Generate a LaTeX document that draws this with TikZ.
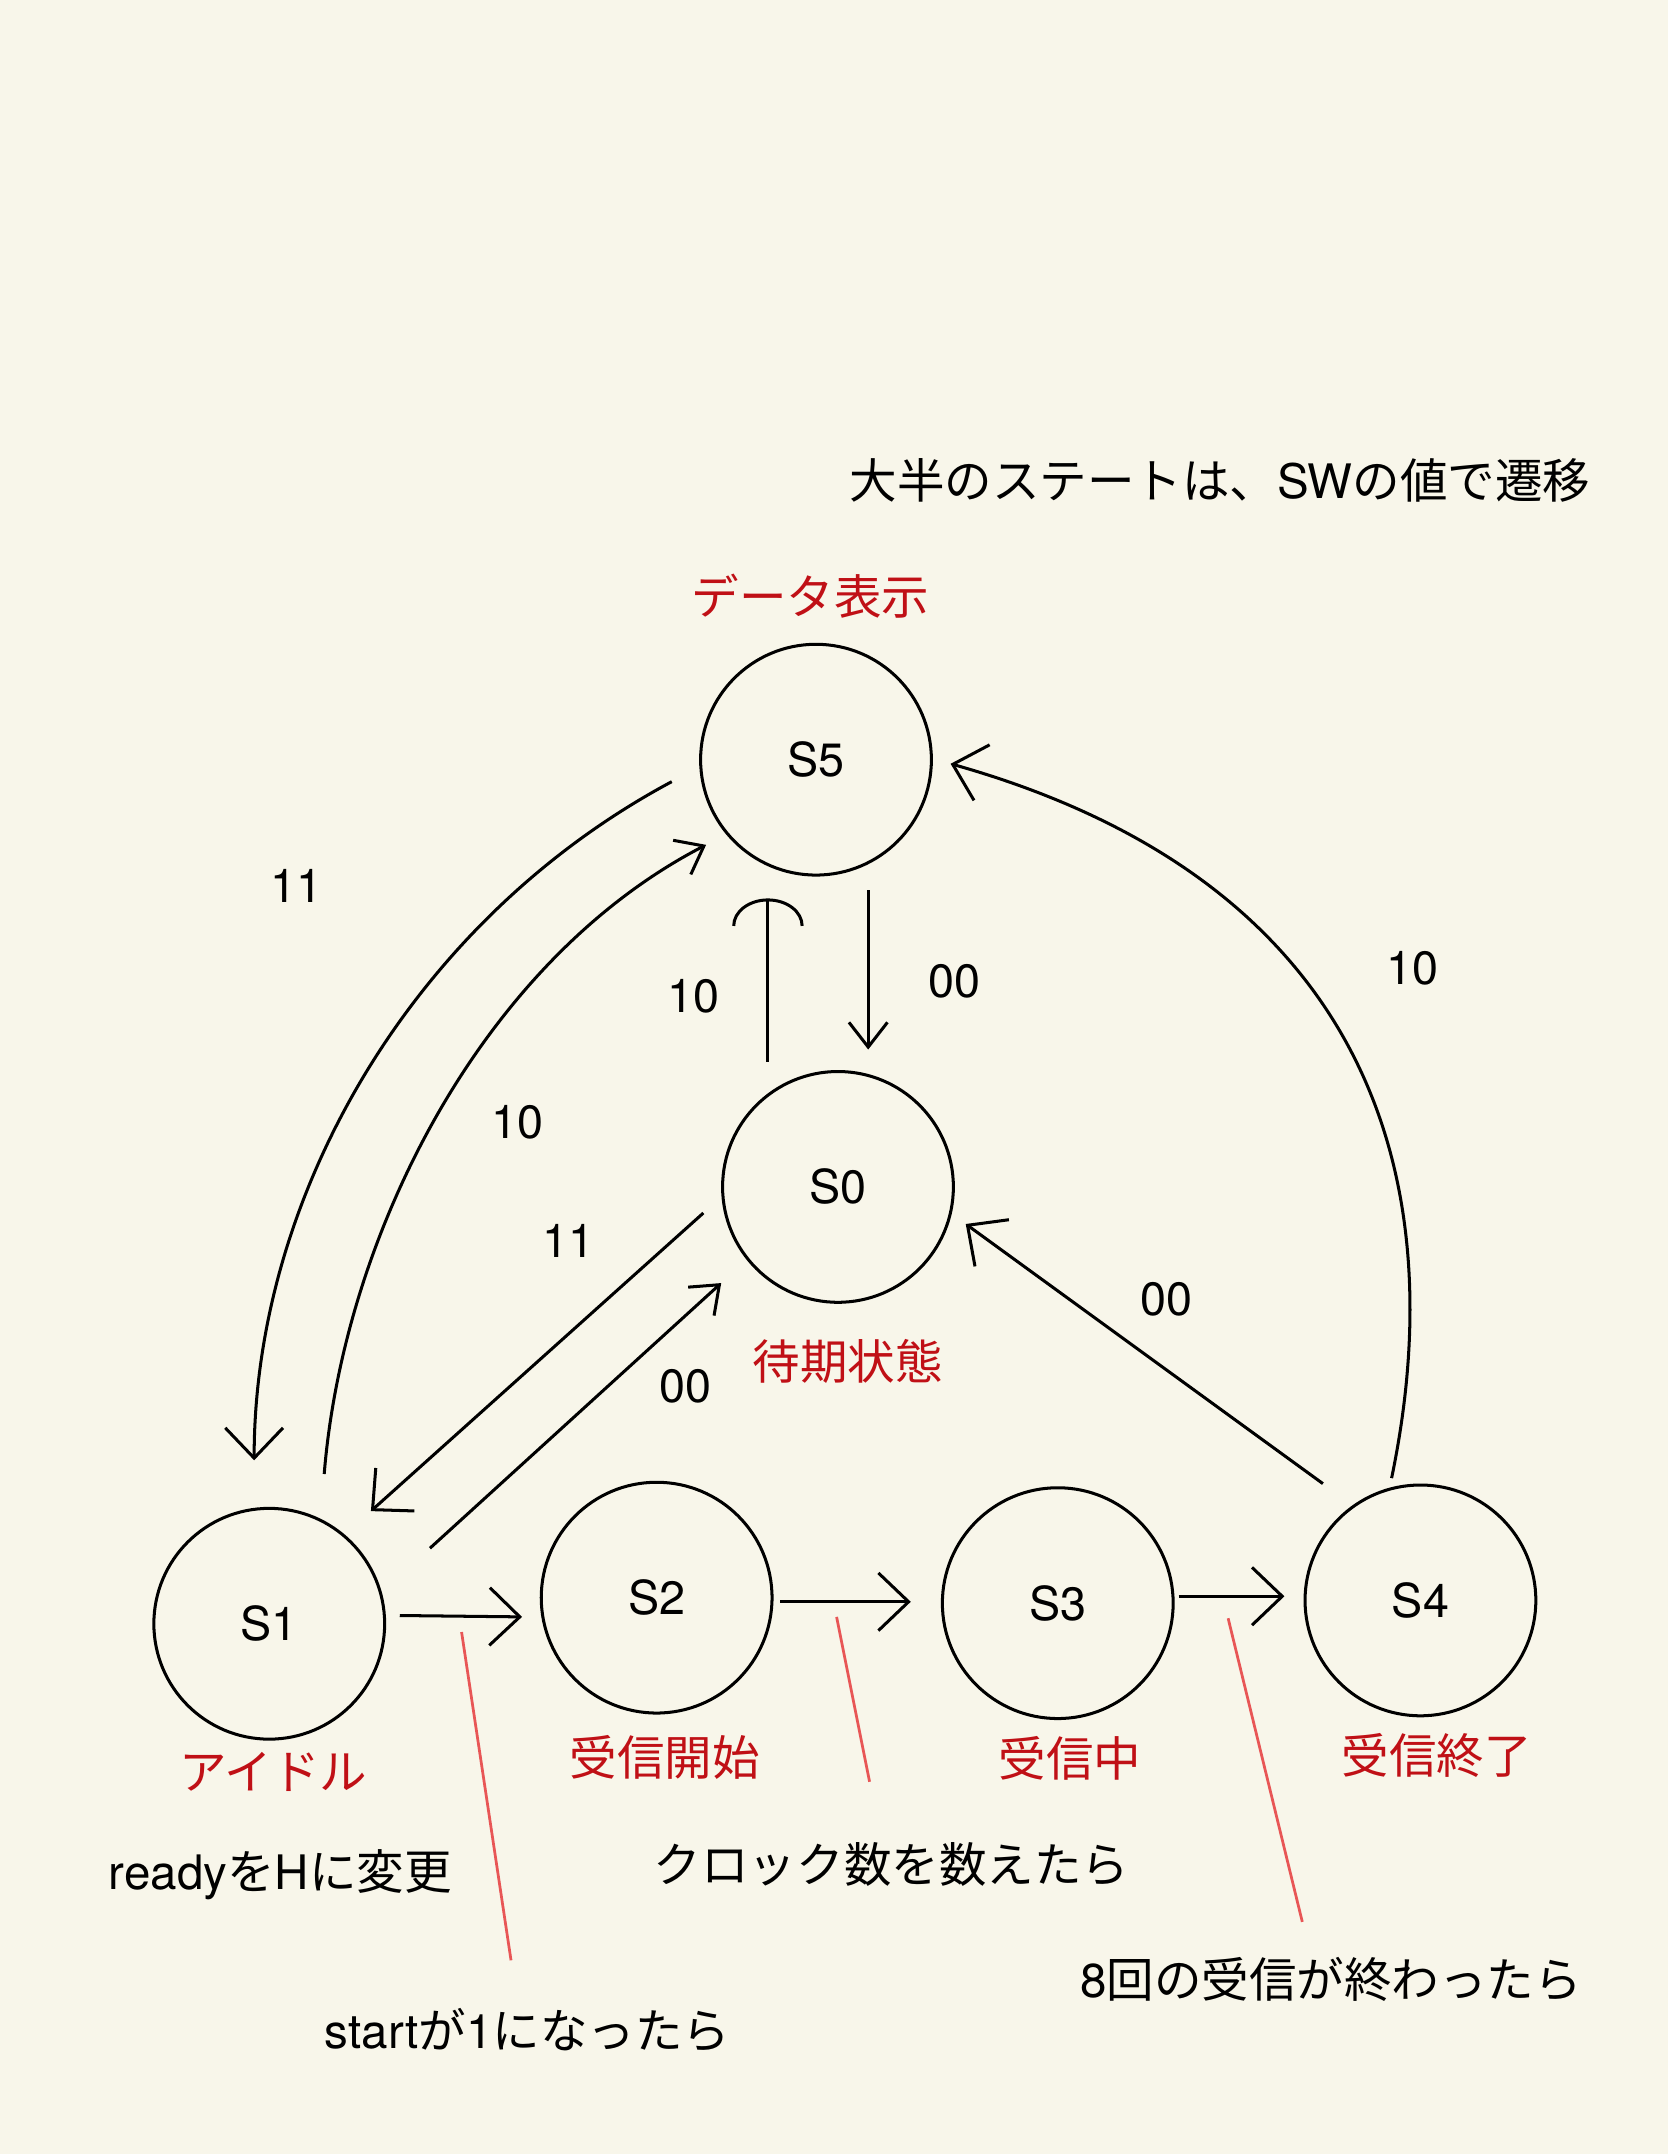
\documentclass[tikz,border=0pt]{standalone}
\usepackage{fontspec}
\setmainfont{Noto Sans CJK JP}
\newfontfamily\lat{TeX Gyre Heros}
\usetikzlibrary{arrows.meta,calc}

\definecolor{paper}{RGB}{248,246,234}
\definecolor{labelred}{RGB}{192,16,22}
\definecolor{notered}{RGB}{232,86,86}

\tikzset{
  state/.style={circle,draw,line width=1.1pt,minimum size=84pt,inner sep=0pt,font=\lat\fontsize{17}{20}\selectfont},
  statename/.style={text=labelred,inner sep=0pt,font=\fontsize{17.3}{20}\selectfont},
  note/.style={inner sep=0pt,font=\fontsize{17.3}{20}\selectfont},
  sig/.style={inner sep=0pt,font=\lat\fontsize{17}{20}\selectfont},
  tr/.style={line width=1.1pt,-{Straight Barb[length=11pt,width=21pt]}},
  trs/.style={line width=1.1pt,-{Straight Barb[length=9pt,width=14pt]}},
  pointer/.style={notered,line width=1pt},
}

\begin{document}
\begin{tikzpicture}[x=0.5pt,y=0.5pt,yscale=-1]
%paper
\fill[paper] (0,0) rectangle (1214,1568);

%States
\node[state] (s5) at (594,553) {S5};
\node[state] (s0) at (610,864) {S0};
\node[state] (s1) at (196,1182) {S1};
\node[state] (s2) at (478,1163) {S2};
\node[state] (s3) at (770,1167) {S3};
\node[state] (s4) at (1034,1165) {S4};

% Text Node
\node[statename] (n5) at (590,434) {データ表示};
\node[statename] (n0) at (617,991) {待期状態};
\node[statename] (n1) at (199,1290) {アイドル};
\node[statename] (n2) at (484,1279) {受信開始};
\node[statename] (n3) at (779,1280) {受信中};
\node[statename] (n4) at (1046,1278) {受信終了};

% Text Node
\node[note] (title) at (888,350) {大半のステートは、{\lat SW}の値で遷移};
\node[note] (readynote) at (204,1365) {{\lat ready}を{\lat H}に変更};
\node[note] (clocknote) at (649,1357) {クロック数を数えたら};
\node[note] (recvnote) at (969,1441) {{\lat 8}回の受信が終わったら};
\node[note] (startnote) at (384,1478) {{\lat start}が{\lat 1}になったら};

%SW values
\node[sig] (c51) at (216,645) {11};
\node[sig] (c05) at (505,725) {10};
\node[sig] (c50) at (695,714) {00};
\node[sig] (c15) at (377,817) {10};
\node[sig] (c01) at (414,903) {11};
\node[sig] (c10) at (499,1009) {00};
\node[sig] (c40) at (849,946) {00};
\node[sig] (c45) at (1028,705) {10};

%Curve Lines
\draw[tr] ($(s5)+(-105,16)$) .. controls (300,670) and (185,870) .. ($(s1)+(-11,-119)$);
\draw[trs] ($(s1)+(40,-109)$) .. controls (250,900) and (350,700) .. ($(s5)+(-80,62)$);
\draw[tr] ($(s4)+(-21,-89)$) .. controls (1060,850) and (990,640) .. ($(s5)+(98,3)$);

%Straight Lines
\draw[line width=1.1pt,-{Arc Barb[length=10pt,width=26pt]}] ($(s0)+(-51,-91)$) -- ($(s5)+(-35,101)$);
\draw[trs] ($(s5)+(38,95)$) -- ($(s0)+(22,-100)$);
\draw[tr] ($(s0)+(-98,19)$) -- ($(s1)+(74,-82)$);
\draw[trs] ($(s1)+(117,-55)$) -- ($(s0)+(-85,70)$);
\draw[tr] ($(s4)+(-71,-85)$) -- ($(s0)+(93,27)$);
\draw[tr] ($(s1)+(95,-6)$) -- ($(s2)+(-98,14)$);
\draw[tr] ($(s2)+(90,3)$) -- ($(s3)+(-107,-1)$);
\draw[tr] ($(s3)+(88,-5)$) -- ($(s4)+(-99,-3)$);

%red pointers
\coordinate (p12) at (336,1188);
\coordinate (p23) at (609,1177);
\coordinate (p34) at (894,1178);
\draw[pointer] (p12) -- ($(startnote)+(-12,-51)$);
\draw[pointer] (p23) -- ($(clocknote)+(-16,-60)$);
\draw[pointer] (p34) -- ($(recvnote)+(-21,-42)$);

\end{tikzpicture}
\end{document}
